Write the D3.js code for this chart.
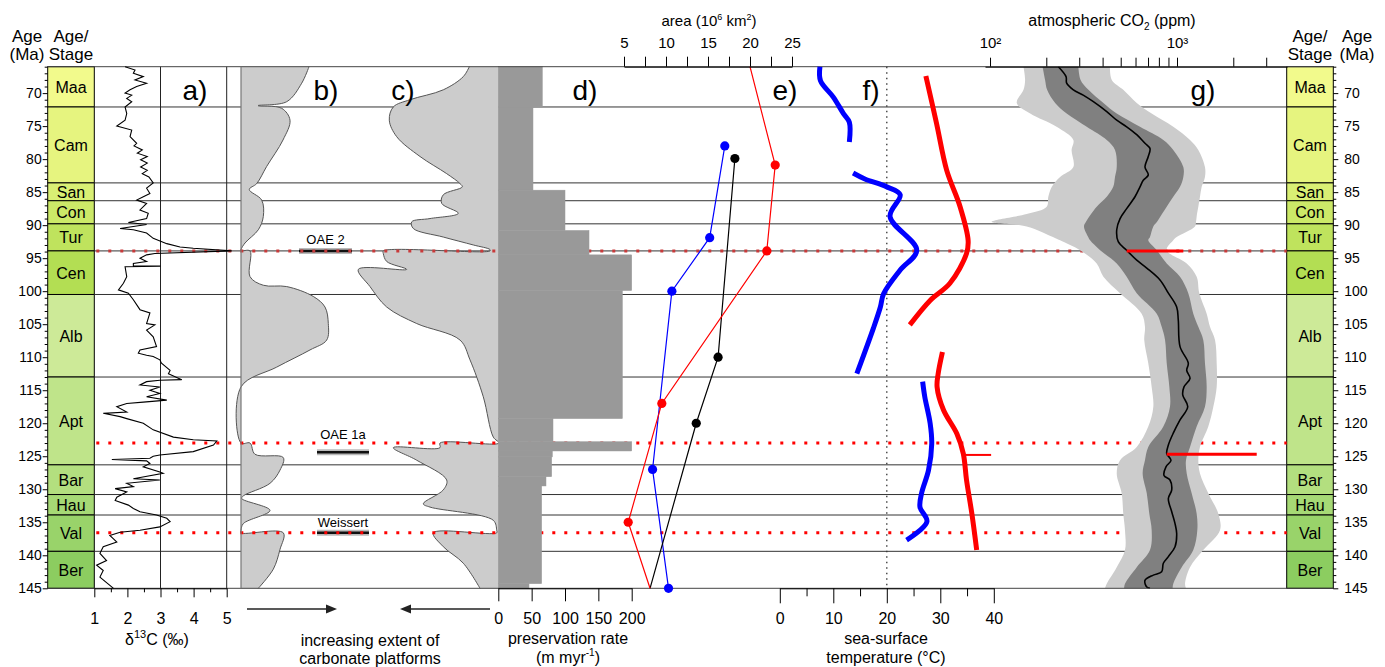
<!DOCTYPE html>
<html>
<head>
<meta charset="utf-8">
<script src="https://cdn.jsdelivr.net/npm/d3@7"></script>
<style>
  body { margin: 0; background: #fff; }
</style>
</head>
<body>
<div id="chart"></div>
<script>
// ---- data ----
var stageNames = ["Maa", "Cam", "San", "Con", "Tur", "Cen", "Alb", "Apt", "Bar", "Hau", "Val", "Ber"];
var stageTop   = [66, 72.1, 83.6, 86.3, 89.8, 93.9, 100.5, 113, 126.3, 130.8, 133.9, 139.4];
var stageBase  = [72.1, 83.6, 86.3, 89.8, 93.9, 100.5, 113, 126.3, 130.8, 133.9, 139.4, 145];

var ageTicks  = [70, 75, 80, 85, 90, 95, 100, 105, 110, 115, 120, 125, 130, 135, 140, 145];
var d13Ticks  = [1, 2, 3, 4, 5];
var presTicks = [0, 50, 100, 150, 200];
var areaTicks = [5, 10, 15, 20, 25];
var sstTicks  = [0, 10, 20, 30, 40];
var co2Ticks  = [100, 200, 300, 400, 500, 600, 700, 800, 900, 1000, 2000, 3000];

var eventNames = ["OAE 2", "OAE 1a", "Weissert"];
var eventAges  = [93.9, 123.0, 136.6];

// a) delta 13C (per mil)
var d13Age = [66.0, 66.5, 67.0, 67.5, 68.0, 68.5, 69.0, 69.5, 70.0, 70.3, 70.8, 71.3, 72.1, 73.1, 74.1, 75.0, 75.6, 76.6, 77.6, 78.0, 78.6, 79.1, 79.6, 80.1, 80.6, 81.2, 81.7, 82.2, 82.7, 83.6, 84.4, 85.2, 85.7, 86.2, 86.7, 87.7, 88.2, 89.0, 89.6, 89.9, 90.5, 90.7, 91.2, 92.0, 92.8, 93.3, 93.5, 93.9, 94.3, 94.5, 95.0, 95.5, 95.8, 96.2, 96.2, 96.3, 97.8, 98.8, 99.8, 100.3, 101.3, 102.8, 103.3, 104.9, 105.1,
  105.9, 106.9, 108.4, 108.9, 109.4, 109.7, 109.9, 110.4, 110.9, 112.0, 112.5, 113.4, 113.5, 113.7, 114.2, 114.5, 115.0, 115.5, 116.0, 116.5, 116.8, 117.0, 117.5, 118.3, 118.5, 119.0, 119.3, 120.0, 121.0, 122.1, 122.5, 122.7, 123.3, 124.3, 124.8, 125.0, 125.3, 125.5, 125.7, 126.1, 126.6, 127.4, 127.6, 128.4, 128.6, 129.1, 129.6, 129.9, 130.4, 131.2, 131.7, 132.4, 132.9, 133.4, 133.9, 134.4, 134.9, 135.7, 136.2, 136.5, 137.0, 137.5, 138.0, 138.7, 139.7, 140.8, 141.5, 142.3, 143.3, 145.0];
var d13Val = [1.93, 2.23, 2.18, 2.48, 2.23, 2.58, 2.28, 2.08, 1.93, 2.13, 1.98, 2.13, 1.93, 1.98, 1.93, 1.68, 2.13, 2.08, 2.28, 2.2, 2.45, 2.3, 2.6, 2.4, 2.6, 2.4, 2.6, 2.45, 2.65, 2.78, 2.58, 2.68, 2.48, 2.28, 2.58, 2.38, 2.63, 2.58, 2.03, 2.58, 1.78, 2.18, 2.58, 2.78, 3.19, 3.59, 3.99, 5.15, 2.83, 2.58, 2.38, 2.58, 2.18, 2.18, 3.0, 1.93, 1.98, 1.88, 1.73, 2.03, 2.18, 2.38, 2.68, 2.58, 2.83,
  2.58, 2.78, 2.88, 2.38, 2.33, 2.58, 2.78, 2.98, 3.03, 3.29, 3.24, 3.64, 2.98, 2.58, 2.38, 2.98, 2.68, 2.98, 2.58, 3.19, 2.48, 1.98, 1.68, 1.98, 1.27, 1.78, 1.98, 2.48, 2.78, 3.39, 3.99, 4.70, 4.60, 3.99, 2.98, 2.78, 2.68, 1.53, 2.58, 2.68, 2.48, 2.98, 3.08, 2.18, 2.98, 1.98, 2.18, 1.63, 1.98, 1.68, 1.63, 2.03, 2.18, 2.38, 2.88, 3.19, 3.29, 2.98, 2.38, 1.78, 1.47, 1.58, 1.68, 1.27, 1.17, 1.37, 1.07, 1.27, 1.17, 1.58];

// b) and c) relative extent of carbonate platforms
var bAge = [66, 68.5, 71.3, 71.9, 72.3, 74.1, 77.1, 81.1, 83.7, 84.6, 86.2, 88.7, 90.7, 92.7, 93.7, 93.9, 93.9, 97.8, 99.1, 99.3, 100.8, 102.4, 104.9, 107.4, 108.9, 111.5, 114.5, 123.0, 123.0, 124.7, 125.2, 127.1, 129.1, 131.0, 131.4, 133.2, 135.2, 136.2, 136.6, 136.6, 139.1, 142.1, 145];
var bVal = [6.8, 6.07, 4.57, 1.7, 4.07, 4.9, 4.2, 2.57, 1.57, 0.83, 2.07, 2.23, 1.73, 0.4, 0, 0, 0.9, 0.9, 2.23, 4.57, 7.23, 8.4, 8.73, 8.57, 6.9, 3.57, 0, 0, 0.9, 1.4, 4.23, 3.9, 2.9, 0.23, 0.07, 2.9, 0.23, 0, 0, 4.23, 3.9, 3.23, 1.73];
var cAge = [66, 67.5, 69.5, 71.0, 72.1, 74.1, 76.6, 79.6, 82.2, 83.7, 84.2, 85.4, 86.7, 88.2, 89.0, 89.5, 90.5, 91.8, 93.0, 93.7, 93.9, 93.9, 94.3, 95.5, 96.7, 96.7, 99.3, 102.4, 104.9, 107.4, 110.4, 116.0, 122.1, 123.0, 123.0, 123.7, 123.7, 125.6, 128.6, 130.1, 132.2, 132.7, 134.7, 136.2, 136.6, 136.6, 138.7, 141.2, 145];
var cVal = [2.97, 3.57, 5.57, 8.9, 10.57, 10.97, 10.23, 7.9, 5.23, 3.9, 3.67, 5.57, 5.73, 4.07, 6.9, 8.73, 8.57, 5.57, 2.57, 0.9, 0.9, 11.57, 11.57, 11.23, 9.23, 14.07, 12.9, 11.23, 8.23, 3.9, 2.9, 1.57, 0.57, 0, 5.9, 5.9, 10.57, 8.23, 5.23, 5.57, 7.57, 6.9, 0.57, 0.23, 0.23, 6.57, 5.57, 3.57, 1.9];

// d) preservation rate (m/myr) per interval
var dTop  = [66, 72.1, 84.7, 90.8, 94.5, 99.9, 119.3, 122.8, 124.2, 125.1, 128.1, 129.5, 144.3];
var dBase = [72.1, 84.7, 90.8, 94.5, 99.9, 119.3, 122.8, 124.2, 125.1, 128.1, 129.5, 144.3, 145];
var dRate = [66, 52, 100, 136, 200, 186, 82, 200, 81, 80, 71.5, 65, 46];

// e) platform area (10^6 km2)
var eBlueAge  = [78.0, 91.9, 100.0, 127.0, 145.0];
var eBlueArea = [17.0, 15.2, 10.7, 8.4, 10.3];
var eBlueDot  = [true, true, true, true, true];
var eBlackAge  = [79.9, 110.0, 120.0, 145.0];
var eBlackArea = [18.2, 16.2, 13.6, 8.1];
var eBlackDot  = [true, true, true, false];
var eRedAge  = [66, 80.9, 93.9, 117.0, 135.0, 145];
var eRedArea = [20.0, 23.0, 22.0, 9.5, 5.5, 8.1];
var eRedDot  = [false, true, true, true, true, false];

// f) sea-surface temperature (deg C)
var fBlue1Age = [66, 68.1, 70.6, 73.1, 74.4, 77.4];
var fBlue1    = [7.5, 7.6, 10.0, 11.9, 13.0, 13.0];
var fBlue2Age = [82.1, 83.0, 84.2, 85.4, 88.7, 93.8, 96.8, 100.4, 102.4, 105.6, 112.5];
var fBlue2    = [13.7, 15.9, 20.0, 22.5, 20.6, 25.6, 22.5, 19.4, 18.8, 17.5, 14.4];
var fBlue3Age = [113.7, 116, 120, 123.1, 127.1, 130.6, 132.7, 134.9, 137.7];
var fBlue3    = [26.7, 27.1, 28.1, 28.4, 27.8, 26.5, 26.2, 27.5, 23.7];
var fRed1Age  = [67.4, 74.6, 81.7, 87.2, 92.3, 94.3, 98.8, 101.4, 105.1];
var fRed1     = [27.3, 29.3, 31.2, 33.7, 35.2, 34.9, 31.8, 28.1, 24.3];
var fRed2Age  = [109.2, 112.5, 114.5, 118, 121.6, 124.6, 128.6, 133.7, 139.2];
var fRed2     = [30.4, 29.6, 29.4, 30.6, 33.1, 34.3, 34.9, 35.9, 36.8];
var fRedBarAge = 124.8, fRedBar = [34.3, 39.5];

// g) atmospheric CO2 (ppm)
var coAge = [66, 68, 69.5, 71.5, 73.1, 75.1, 77.1, 78.6, 81.2, 82.7, 84.2, 85.7, 87.2, 88.3, 89.5, 90.2, 91.8, 92.3, 93.8, 95.8, 97.8, 100.3, 103.4, 105.4, 107.4, 110.9, 114.5, 117.5, 120.5, 123.6, 125.6, 127.6, 130.6, 133.7, 136.2, 139.2, 141.8, 144.3, 145];
var coOuterLo = [151, 154, 151, 139, 164, 227, 279, 273, 279, 237, 214, 205, 201, 157, 102, 157, 217, 237, 303, 372, 404, 496, 647, 674, 668, 702, 732, 747, 702, 609, 496, 476, 506, 516, 527, 527, 476, 421, 412];
var coInnerLo = [191, 197, 202, 223, 257, 329, 421, 466, 476, 466, 456, 421, 372, 347, 326, 318, 335, 343, 388, 476, 538, 609, 779, 828, 863, 881, 910, 917, 845, 702, 674, 655, 689, 711, 732, 717, 609, 527, 521];
var coInnerHi = [297, 305, 336, 404, 476, 634, 845, 955, 1081, 1081, 1038, 955, 881, 831, 782, 747, 717, 702, 779, 881, 1038, 1149, 1222, 1300, 1382, 1411, 1441, 1411, 1274, 1174, 1117, 1127, 1198, 1274, 1284, 1222, 1060, 955, 948];
var coOuterHi = [438, 448, 516, 609, 732, 955, 1174, 1300, 1411, 1411, 1355, 1327, 1300, 1279, 1264, 1248, 996, 955, 881, 1127, 1274, 1316, 1441, 1501, 1597, 1630, 1630, 1564, 1470, 1327, 1300, 1327, 1470, 1663, 1698, 1382, 1174, 1104, 1117];
var coMedAge = [66.0, 67.5, 68.5, 69.5, 70.3, 71.3, 72.8, 74.1, 75.1, 76.3, 77.6, 78.4, 79.6, 81.2, 82.4, 83.2, 84.2, 85.7, 87.5, 89.0, 90.7, 92.5, 93.8, 95.3, 96.5, 98.3, 100.3, 102.4, 104.4, 108.4, 110.9, 112.0, 113.2, 114.5, 115.7, 117.5, 119.5, 121.5, 123.3, 124.6, 125.6, 126.6, 127.9, 128.6, 130.1, 131.4, 133.4, 135.2, 136.7, 138.7, 140.2, 141.2, 142.5, 143.0, 143.8, 144.8, 145];
var coMed = [232, 255, 257, 279, 315, 357, 421, 476, 538, 609, 674, 717, 702, 674, 702, 660, 634, 596, 538, 496, 476, 485, 538, 609, 689, 811, 899, 996, 1016, 1038, 1149, 1127, 1174, 1090, 1073, 1141, 1038, 955, 899, 881, 929, 873, 852, 917, 937, 899, 937, 976, 996, 976, 899, 845, 828, 747, 674, 689, 717];
var coBarAge = [93.9, 124.7];
var coBarLo  = [538, 881];
var coBarHi  = [1081, 2669];

// ---- styles ----
var FONT = '"Liberation Sans", Arial, Helvetica, sans-serif';
var stageColour = { Maa: "#f2fa8c", Cam: "#e6f47f", San: "#d9ef74", Con: "#cce968", Tur: "#bfe35d", Cen: "#b3de53",
                    Alb: "#cdea98", Apt: "#bfe48a", Bar: "#b3df7f", Hau: "#a6d975", Val: "#99d36a", Ber: "#8ccd60" };

var width = 1385, height = 667;

var svg = d3.select("#chart").append("svg")
    .attr("width", width).attr("height", height)
    .style("font-family", FONT);

// scales
var y     = d3.scaleLinear().domain([66, 145]).range([66.7, 588.3]);
var xD13  = d3.scaleLinear().domain([1, 5]).range([94.3, 226.7]);
var xB    = d3.scaleLinear().domain([0, 10]).range([241, 341]);
var xC    = d3.scaleLinear().domain([0, 10]).range([499, 399]);
var xP    = d3.scaleLinear().domain([0, 200]).range([498.3, 631.7]);
var xA    = d3.scaleLinear().domain([5, 25]).range([624, 792]);
var xT    = d3.scaleLinear().domain([0, 40]).range([779.8, 993.8]);
var xCO2  = d3.scaleLog().domain([94, 3875]).range([985, 1287]);

var colL = [47.7, 94.3], colR = [1286.7, 1333.3];

function zip(a, b) { return a.map(function(d, i) { return { a: d, v: b[i] }; }); }

// stage columns
var stages = stageNames.map(function(n, i) { return { name: n, top: stageTop[i], base: stageBase[i] }; });
[colL, colR].forEach(function(col) {
    var g = svg.append("g");
    g.selectAll("rect").data(stages).enter().append("rect")
        .attr("x", col[0]).attr("width", col[1] - col[0])
        .attr("y", function(d) { return y(d.top); })
        .attr("height", function(d) { return y(d.base) - y(d.top); })
        .attr("fill", function(d) { return stageColour[d.name]; })
        .attr("stroke", "#000").attr("stroke-width", 1);
    g.selectAll("text").data(stages).enter().append("text")
        .attr("x", (col[0] + col[1]) / 2)
        .attr("y", function(d) { return (y(d.top) + y(d.base)) / 2 + 6; })
        .attr("text-anchor", "middle").attr("font-size", 16)
        .text(function(d) { return d.name; });
});

// stage boundary lines
svg.append("g").selectAll("line").data(stageTop.slice(1)).enter().append("line")
    .attr("x1", colL[1]).attr("x2", colR[0])
    .attr("y1", function(d) { return y(d); }).attr("y2", function(d) { return y(d); })
    .attr("stroke", "#333").attr("stroke-width", 1);

// panel a guide lines
svg.append("g").selectAll("line").data([3, 5]).enter().append("line")
    .attr("x1", function(d) { return xD13(d); }).attr("x2", function(d) { return xD13(d); })
    .attr("y1", y(66)).attr("y2", y(145))
    .attr("stroke", "#222").attr("stroke-width", 1);

// b) and c) platform extent
var smooth = d3.curveCatmullRom.alpha(0.5);
var bData = zip(bAge, bVal), cData = zip(cAge, cVal);
svg.append("path").datum(bData)
    .attr("d", d3.area().curve(smooth).y(function(d) { return y(d.a); }).x0(xB(0)).x1(function(d) { return xB(d.v); }))
    .attr("fill", "#cccccc");
svg.append("path").datum(bData)
    .attr("d", d3.line().curve(smooth).y(function(d) { return y(d.a); }).x(function(d) { return xB(d.v); }))
    .attr("fill", "none").attr("stroke", "#555").attr("stroke-width", 1);
svg.append("path").datum(cData)
    .attr("d", d3.area().curve(smooth).y(function(d) { return y(d.a); }).x0(xC(0)).x1(function(d) { return xC(d.v); }))
    .attr("fill", "#cccccc");
svg.append("path").datum(cData)
    .attr("d", d3.line().curve(smooth).y(function(d) { return y(d.a); }).x(function(d) { return xC(d.v); }))
    .attr("fill", "none").attr("stroke", "#555").attr("stroke-width", 1);

// event bars and labels in panel b/c
var evBarX = [[299, 352], [317, 369], [317, 369]];
var evBarAge = [93.9, 124.4, 136.6];
var evLabelDy = [-7, -4, -6];
eventNames.forEach(function(n, i) {
    var yy = y(evBarAge[i]);
    svg.append("line").attr("x1", evBarX[i][0]).attr("x2", evBarX[i][1]).attr("y1", yy).attr("y2", yy)
        .attr("stroke", "#aaa").attr("stroke-width", 6).attr("opacity", 0.8);
    svg.append("line").attr("x1", evBarX[i][0]).attr("x2", evBarX[i][1]).attr("y1", yy).attr("y2", yy)
        .attr("stroke", "#111").attr("stroke-width", 2.5);
    svg.append("text").attr("x", (evBarX[i][0] + evBarX[i][1]) / 2)
        .attr("y", y(eventAges[i]) + evLabelDy[i])
        .attr("text-anchor", "middle").attr("font-size", 13).text(n);
});

// event dotted lines
svg.append("g").selectAll("line").data(eventAges).enter().append("line")
    .attr("x1", colL[1] + 2).attr("x2", colR[0])
    .attr("y1", function(d) { return y(d); }).attr("y2", function(d) { return y(d); })
    .attr("stroke", function(d, i) { return i === 0 ? "#c83a3a" : "#ff0000"; })
    .attr("stroke-width", 3).attr("stroke-dasharray", "3,9");

// d) preservation rate bars
var dData = dRate.map(function(r, i) { return { top: dTop[i], base: dBase[i], r: r }; });
svg.append("g").selectAll("rect").data(dData).enter().append("rect")
    .attr("x", xP(0))
    .attr("y", function(d) { return y(d.top); })
    .attr("width", function(d) { return xP(d.r) - xP(0); })
    .attr("height", function(d) { return y(d.base) - y(d.top); })
    .attr("fill", "#999999").attr("stroke", "#999999").attr("stroke-width", 0.5);

// g) CO2 envelope
var co = coAge.map(function(a, i) { return { a: a, ol: coOuterLo[i], il: coInnerLo[i], ih: coInnerHi[i], oh: coOuterHi[i] }; });
svg.append("path").datum(co)
    .attr("d", d3.area().curve(smooth).y(function(d) { return y(d.a); })
        .x0(function(d) { return xCO2(d.ol); }).x1(function(d) { return xCO2(d.oh); }))
    .attr("fill", "#cccccc");
svg.append("path").datum(co)
    .attr("d", d3.area().curve(smooth).y(function(d) { return y(d.a); })
        .x0(function(d) { return xCO2(d.il); }).x1(function(d) { return xCO2(d.ih); }))
    .attr("fill", "#808080");
svg.append("path").datum(zip(coMedAge, coMed))
    .attr("d", d3.line().curve(smooth).y(function(d) { return y(d.a); }).x(function(d) { return xCO2(d.v); }))
    .attr("fill", "none").attr("stroke", "#000").attr("stroke-width", 1.6);
coBarAge.forEach(function(a, i) {
    svg.append("line").attr("x1", xCO2(coBarLo[i])).attr("x2", xCO2(coBarHi[i]))
        .attr("y1", y(a)).attr("y2", y(a))
        .attr("stroke", "#ff0000").attr("stroke-width", 3);
});

// borders
[y(66), y(145)].forEach(function(yy) {
    svg.append("line").attr("x1", colL[0]).attr("x2", colR[1]).attr("y1", yy).attr("y2", yy)
        .attr("stroke", "#444").attr("stroke-width", 1);
});
svg.append("line").attr("x1", xB(0)).attr("x2", xB(0)).attr("y1", y(66)).attr("y2", y(145))
    .attr("stroke", "#777").attr("stroke-width", 1.2);

// a) d13C curve
svg.append("path").datum(zip(d13Age, d13Val))
    .attr("d", d3.line().y(function(d) { return y(d.a); }).x(function(d) { return xD13(d.v); }))
    .attr("fill", "none").attr("stroke", "#000").attr("stroke-width", 1.1);

// e) area series
[[eBlueAge, eBlueArea, eBlueDot, "#0000ff"], [eBlackAge, eBlackArea, eBlackDot, "#000000"], [eRedAge, eRedArea, eRedDot, "#ff0000"]]
.forEach(function(s) {
    var data = s[0].map(function(a, i) { return { a: a, v: s[1][i], dot: s[2][i] }; });
    svg.append("path").datum(data)
        .attr("d", d3.line().y(function(d) { return y(d.a); }).x(function(d) { return xA(d.v); }))
        .attr("fill", "none").attr("stroke", s[3]).attr("stroke-width", 1.2);
    svg.append("g").selectAll("circle").data(data.filter(function(d) { return d.dot; })).enter().append("circle")
        .attr("cx", function(d) { return xA(d.v); }).attr("cy", function(d) { return y(d.a); })
        .attr("r", 4.6).attr("fill", s[3]);
});

// f) SST
svg.append("line").attr("x1", xT(20)).attr("x2", xT(20)).attr("y1", y(66)).attr("y2", y(145))
    .attr("stroke", "#333").attr("stroke-width", 1.3).attr("stroke-dasharray", "1.5,4");
[[fBlue1Age, fBlue1, "#0000ff"], [fBlue2Age, fBlue2, "#0000ff"], [fBlue3Age, fBlue3, "#0000ff"],
 [fRed1Age, fRed1, "#ff0000"], [fRed2Age, fRed2, "#ff0000"]].forEach(function(s) {
    svg.append("path").datum(zip(s[0], s[1]))
        .attr("d", d3.line().curve(smooth).y(function(d) { return y(d.a); }).x(function(d) { return xT(d.v); }))
        .attr("fill", "none").attr("stroke", s[2]).attr("stroke-width", 5).attr("stroke-linejoin", "round");
});
svg.append("line").attr("x1", xT(fRedBar[0])).attr("x2", xT(fRedBar[1]))
    .attr("y1", y(fRedBarAge)).attr("y2", y(fRedBarAge))
    .attr("stroke", "#ff0000").attr("stroke-width", 2);

// ---- axes ----
function styleAxis(g, size) {
    g.selectAll("text").attr("font-size", size).attr("font-family", FONT).attr("fill", "#000");
    g.selectAll("line").attr("stroke", "#000");
    g.select(".domain").attr("stroke", "#000");
}
var fmt = d3.format("d");
var minorAges = d3.range(66, 146).filter(function(d) { return d % 5 !== 0; });
// left/right age axes
svg.append("g").attr("transform", "translate(" + colL[0] + ",0)")
    .call(d3.axisLeft(y).tickValues(minorAges).tickSize(3).tickFormat(""))
    .call(function(g) { g.select(".domain").remove(); styleAxis(g, 14); });
svg.append("g").attr("transform", "translate(" + colL[0] + ",0)")
    .call(d3.axisLeft(y).tickValues(ageTicks).tickSize(5).tickPadding(1).tickFormat(fmt))
    .call(function(g) { g.select(".domain").remove(); styleAxis(g, 14); });
svg.append("g").attr("transform", "translate(" + colR[1] + ",0)")
    .call(d3.axisRight(y).tickValues(minorAges).tickSize(3).tickFormat(""))
    .call(function(g) { g.select(".domain").remove(); styleAxis(g, 14); });
svg.append("g").attr("transform", "translate(" + colR[1] + ",0)")
    .call(d3.axisRight(y).tickValues(ageTicks).tickSize(5).tickPadding(6).tickFormat(fmt))
    .call(function(g) { g.select(".domain").remove(); styleAxis(g, 14); });

var yb = y(145), yt = y(66);
// bottom axes
svg.append("g").attr("transform", "translate(0," + yb + ")")
    .call(d3.axisBottom(xD13).tickValues([1.5, 2.5, 3.5, 4.5]).tickSize(4).tickFormat("").tickSizeOuter(0))
    .call(function(g) { g.select(".domain").remove(); styleAxis(g, 16); });
svg.append("g").attr("transform", "translate(0," + yb + ")")
    .call(d3.axisBottom(xD13).tickValues(d13Ticks).tickSize(9).tickPadding(15).tickSizeOuter(0).tickFormat(fmt))
    .call(function(g) { styleAxis(g, 16); });
svg.append("g").attr("transform", "translate(0," + yb + ")")
    .call(d3.axisBottom(xP).tickValues(presTicks).tickSize(13).tickPadding(11).tickSizeOuter(0).tickFormat(fmt))
    .call(function(g) { styleAxis(g, 16); });
svg.append("g").attr("transform", "translate(0," + yb + ")")
    .call(d3.axisBottom(xT).tickValues([5, 15, 25, 35]).tickSize(8).tickFormat("").tickSizeOuter(0))
    .call(function(g) { g.select(".domain").remove(); styleAxis(g, 16); });
svg.append("g").attr("transform", "translate(0," + yb + ")")
    .call(d3.axisBottom(xT).tickValues(sstTicks).tickSize(15).tickPadding(9).tickSizeOuter(0).tickFormat(fmt))
    .call(function(g) { styleAxis(g, 16); });

// top axes
svg.append("g").attr("transform", "translate(0," + yt + ")")
    .call(d3.axisTop(xA).tickValues([7.5, 12.5, 17.5, 22.5]).tickSize(10).tickFormat("").tickSizeOuter(0))
    .call(function(g) { g.select(".domain").remove(); styleAxis(g, 15); });
svg.append("g").attr("transform", "translate(0," + yt + ")")
    .call(d3.axisTop(xA).tickValues(areaTicks).tickSize(10).tickPadding(8.5).tickSizeOuter(0).tickFormat(fmt))
    .call(function(g) { styleAxis(g, 15); });
svg.append("g").attr("transform", "translate(0," + yt + ")")
    .call(d3.axisTop(xCO2).tickValues(co2Ticks).tickSize(9).tickPadding(9.5).tickSizeOuter(0)
        .tickFormat(function(d) { return d === 100 ? "10\u00B2" : d === 1000 ? "10\u00B3" : ""; }))
    .call(function(g) { styleAxis(g, 15); });

// ---- texts ----
function label(x, yy, txt, size, anchor) {
    return svg.append("text").attr("x", x).attr("y", yy).attr("font-size", size)
        .attr("text-anchor", anchor || "middle").text(txt);
}
label(27, 42, "Age", 17); label(27, 60, "(Ma)", 17);
label(71, 42, "Age/", 17); label(71, 60, "Stage", 17);
label(1310, 42, "Age/", 17); label(1310, 60, "Stage", 17);
label(1357, 42, "Age", 17); label(1357, 60, "(Ma)", 17);

[["a)", 195], ["b)", 326], ["c)", 403], ["d)", 585], ["e)", 785], ["f)", 871], ["g)", 1203]].forEach(function(p) {
    label(p[1], 100, p[0], 28);
});

var t = label(709, 26, "", 15);
t.append("tspan").text("area  (10");
t.append("tspan").attr("font-size", 9).attr("dy", -6).text("6");
t.append("tspan").attr("dy", 6).text(" km");
t.append("tspan").attr("font-size", 9).attr("dy", -6).text("2");
t.append("tspan").attr("dy", 6).text(")");

t = label(1112, 26, "", 16);
t.append("tspan").text("atmospheric CO");
t.append("tspan").attr("font-size", 10).attr("dy", 4).text("2");
t.append("tspan").attr("dy", -4).text(" (ppm)");

t = label(157, 645, "", 16);
t.append("tspan").text("\u03B4");
t.append("tspan").attr("font-size", 11).attr("dy", -7).text("13");
t.append("tspan").attr("dy", 7).text("C (\u2030)");

label(370, 646, "increasing extent of", 16);
label(370, 664, "carbonate platforms", 16);

label(568, 644, "preservation rate", 16);
t = label(568, 663, "", 16);
t.append("tspan").text("(m myr");
t.append("tspan").attr("font-size", 10).attr("dy", -7).text("-1");
t.append("tspan").attr("dy", 7).text(")");

label(886, 644, "sea-surface", 16);
label(886, 663, "temperature (\u00B0C)", 16);

// arrows
function arrow(x1, x2, yy) {
    var dir = x2 > x1 ? 1 : -1;
    svg.append("line").attr("x1", x1).attr("x2", x2 - dir * 9).attr("y1", yy).attr("y2", yy)
        .attr("stroke", "#222").attr("stroke-width", 1.6);
    svg.append("path")
        .attr("d", "M" + x2 + "," + yy + "L" + (x2 - dir * 11) + "," + (yy - 4.5) + "L" + (x2 - dir * 11) + "," + (yy + 4.5) + "Z")
        .attr("fill", "#222");
}
arrow(247, 337, 609);
arrow(490, 400, 609);
</script>
</body>
</html>
